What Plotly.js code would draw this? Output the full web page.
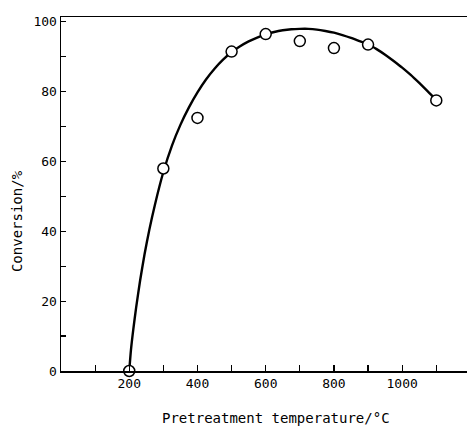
<!DOCTYPE html>
<html>
<head>
<meta charset="utf-8">
<script src="https://cdn.plot.ly/plotly-3.0.1.min.js"></script>
<style>html,body{margin:0;padding:0;background:#fff;}#chart{width:468px;height:430px;}</style>
</head>
<body>
<div id="chart"></div>
<script>
// Measured data points
const tempPoints = [200, 300, 400, 500, 600, 700, 800, 900, 1100];
const conversionPoints = [0, 58, 72.5, 91.5, 96.5, 94.5, 92.5, 93.5, 77.5];

// Fitted curve
const curveTemp = [200, 205, 212, 220, 232, 245, 259, 275, 300, 325, 350, 375, 400, 425, 450, 475, 500, 525, 550, 575, 600, 625, 650, 675, 700, 725, 750, 775, 800, 825, 850, 875, 900, 925, 950, 975, 1000, 1025, 1050, 1075, 1100];
const curveConversion = [0, 6, 12, 18, 26, 33.5, 40.5, 47.5, 57, 64.5, 70.5, 75.5, 79.8, 83.5, 86.6, 89.2, 91.3, 93, 94.4, 95.5, 96.4, 97.1, 97.6, 97.9, 98, 98, 97.8, 97.4, 96.9, 96.2, 95.4, 94.5, 93.6, 92.2, 90.6, 88.8, 86.9, 84.8, 82.5, 80.1, 77.6];

const xTickVals = [200, 400, 600, 800, 1000];
const xTickText = ['200', '400', '600', '800', '1000'];
const yTickVals = [0, 20, 40, 60, 80, 100];
const yTickText = ['0', '20', '40', '60', '80', '100'];

const xTitle = 'Pretreatment temperature/°C';
const yTitle = 'Conversion/%';

const FONT = '"DejaVu Sans Mono", monospace';

const traces = [
  {
    x: curveTemp, y: curveConversion, mode: 'lines', type: 'scatter',
    line: {color: '#000', width: 2.4, shape: 'spline', smoothing: 0.6},
    hoverinfo: 'skip', showlegend: false, cliponaxis: false
  },
  {
    x: tempPoints, y: conversionPoints, mode: 'markers', type: 'scatter',
    marker: {symbol: 'circle', size: 11, color: '#fff', line: {color: '#000', width: 1.5}},
    showlegend: false, cliponaxis: false
  }
];

const layout = {
  width: 468, height: 430,
  margin: {l: 61, r: 1, t: 17, b: 59},
  paper_bgcolor: '#fff', plot_bgcolor: '#fff',
  font: {family: FONT, size: 13, color: '#000'},
  showlegend: false,
  xaxis: {
    range: [0, 1190], showgrid: false, zeroline: false,
    showline: true, linecolor: '#000', linewidth: 1.5, mirror: true,
    ticks: 'inside', ticklen: 6, tickwidth: 1.2, tickcolor: '#000',
    tickvals: xTickVals, ticktext: xTickText,
    minor: {dtick: 100, tick0: 0, ticks: 'inside', ticklen: 6, tickwidth: 1.2, tickcolor: '#000'},
    tickfont: {family: FONT, size: 13, color: '#000'}
  },
  yaxis: {
    range: [0, 101.4], showgrid: false, zeroline: false,
    showline: true, linecolor: '#000', linewidth: 1.5,
    ticks: 'inside', ticklen: 5, tickwidth: 1.2, tickcolor: '#000',
    tickvals: yTickVals, ticktext: yTickText,
    minor: {dtick: 10, tick0: 0, ticks: 'inside', ticklen: 5, tickwidth: 1.2, tickcolor: '#000'},
    tickfont: {family: FONT, size: 13, color: '#000'}
  },
  annotations: [
    {text: xTitle, xref: 'paper', yref: 'paper', x: 0.53, y: -0.133,
     xanchor: 'center', yanchor: 'middle', showarrow: false,
     font: {family: FONT, size: 14, color: '#000'}},
    {text: yTitle, xref: 'paper', yref: 'paper', x: -0.108, y: 0.424,
     xanchor: 'center', yanchor: 'middle', textangle: -90, showarrow: false,
     font: {family: FONT, size: 14, color: '#000'}}
  ]
};

Plotly.newPlot('chart', traces, layout, {displayModeBar: false, staticPlot: true});
</script>
</body>
</html>
